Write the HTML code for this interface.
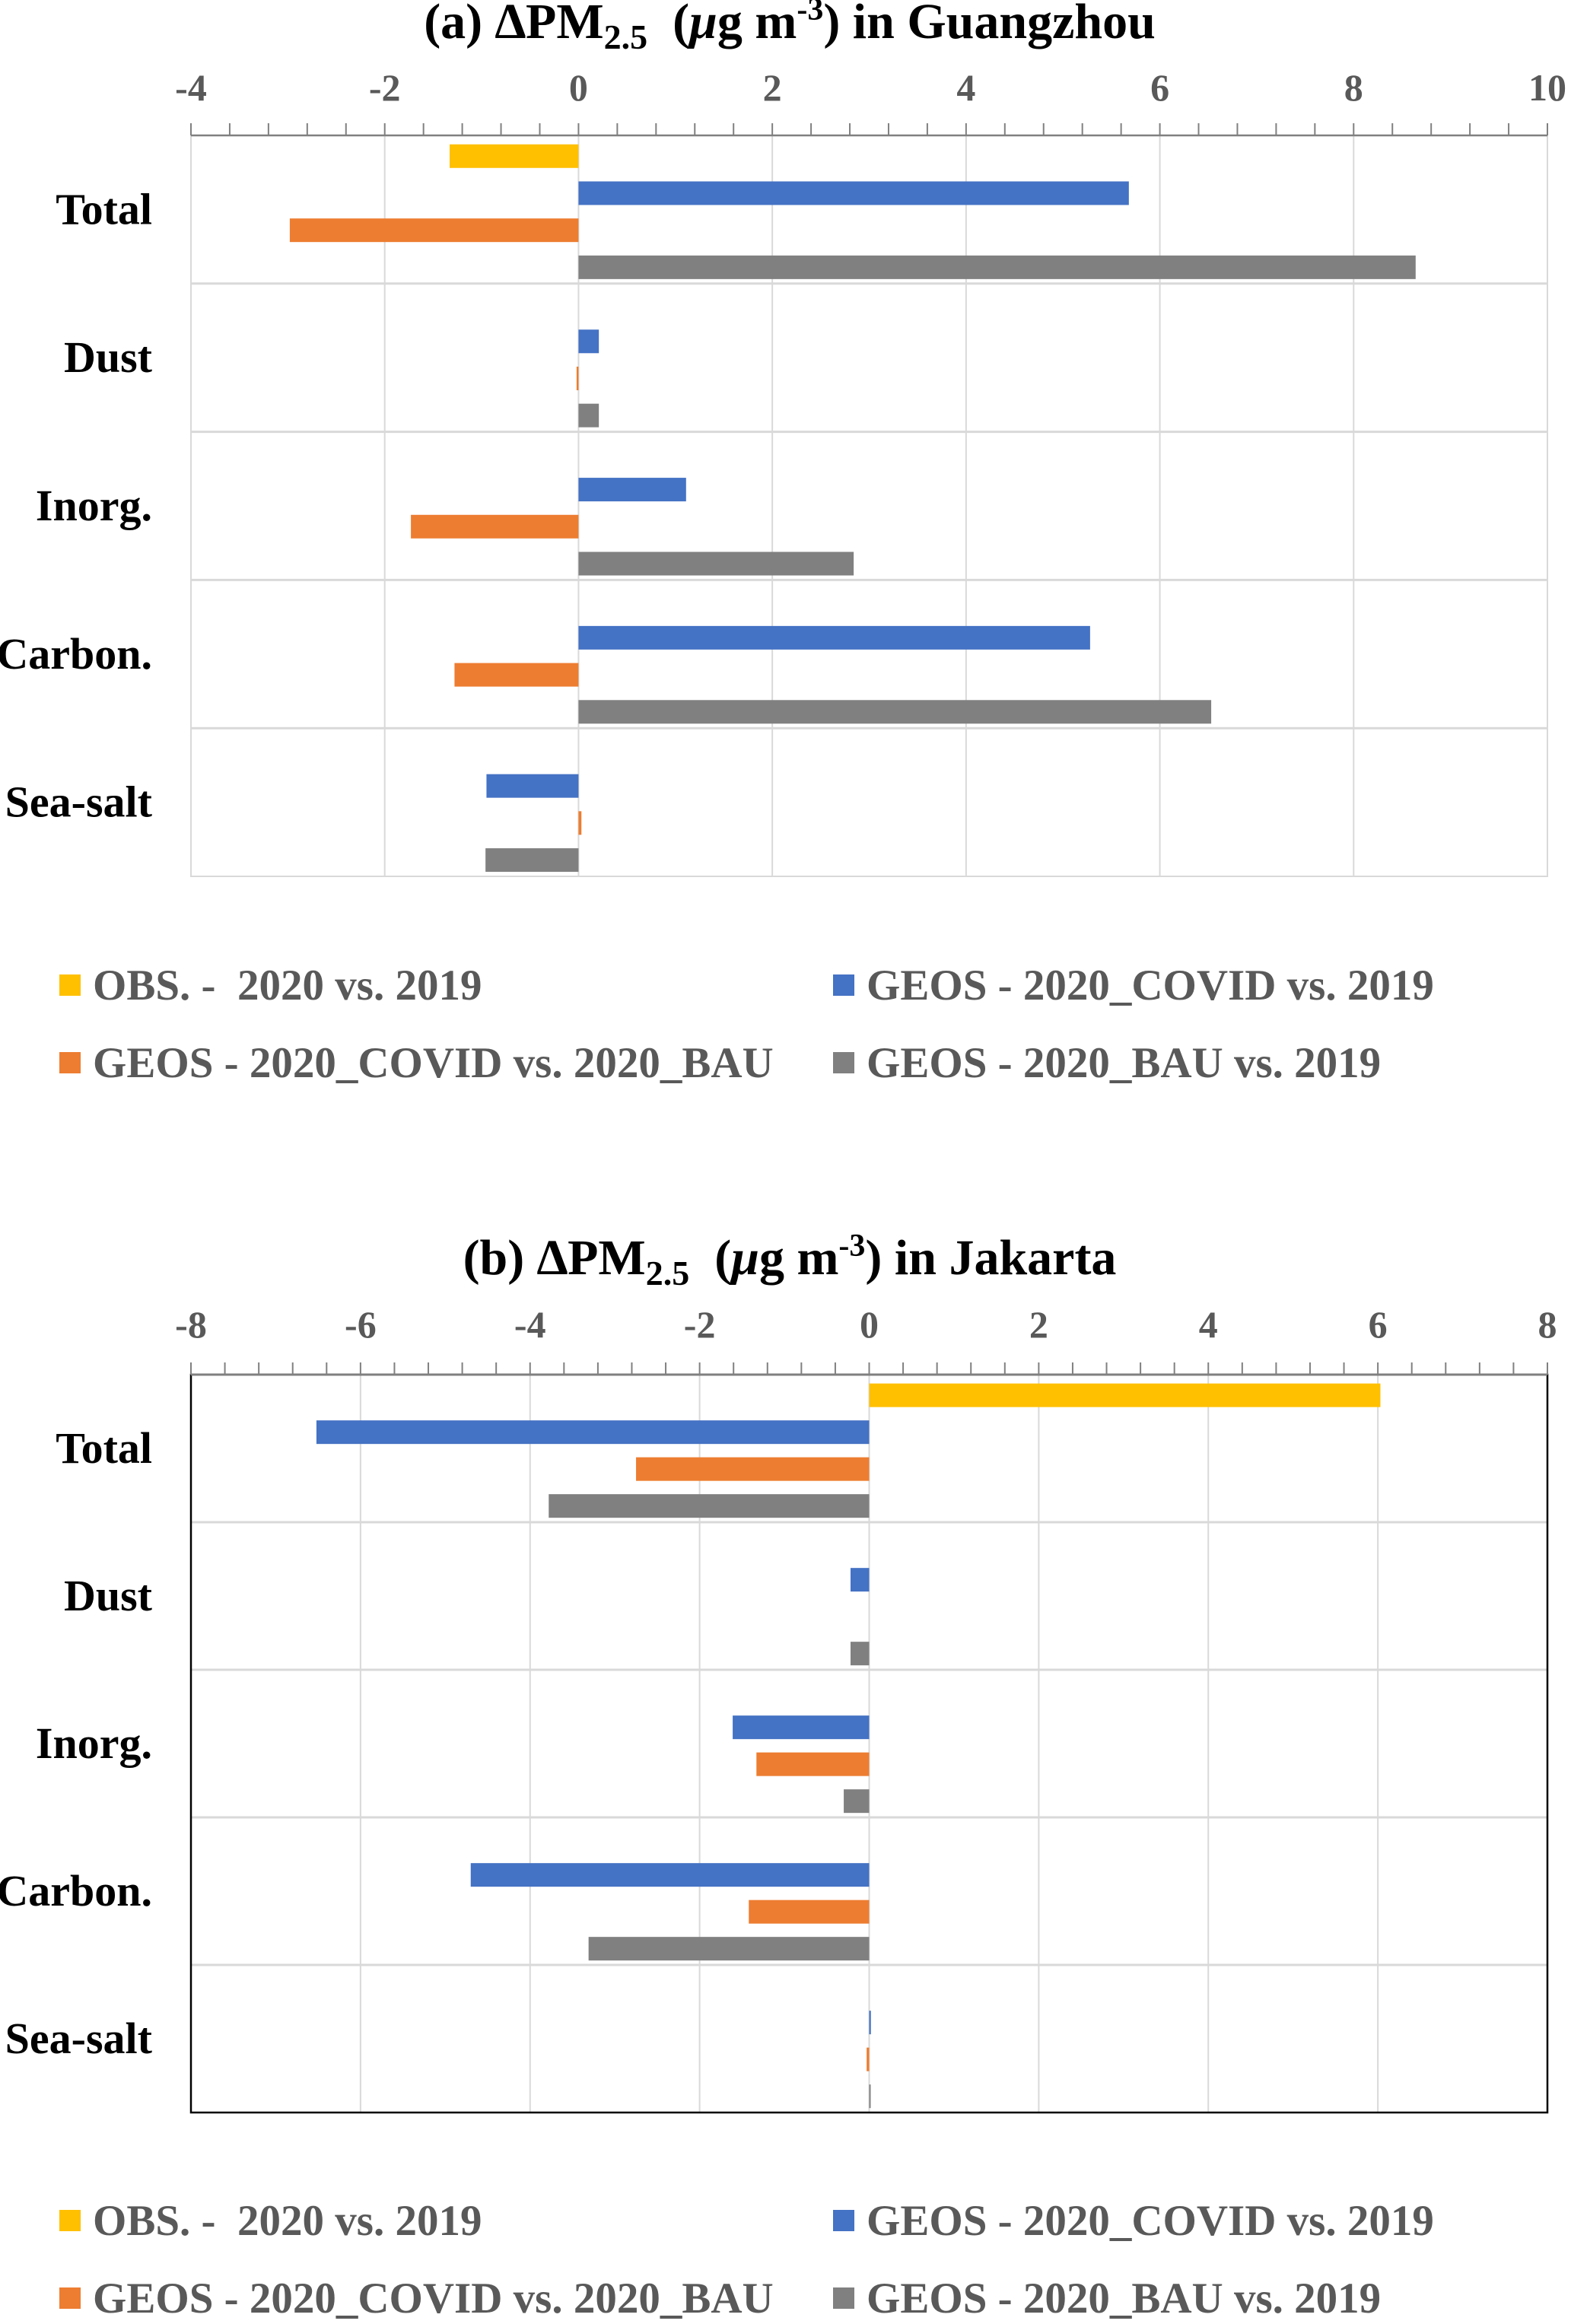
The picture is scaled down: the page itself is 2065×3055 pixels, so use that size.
<!DOCTYPE html>
<html><head><meta charset="utf-8"><style>
html,body{margin:0;padding:0;background:#fff}
svg{display:block;font-family:"Liberation Serif",serif;font-weight:bold}
text{white-space:pre}
</style></head><body>
<svg id="chart" width="2065" height="3055" viewBox="0 0 2065 3055" xmlns="http://www.w3.org/2000/svg" xml:space="preserve"></svg>
<script>
const categories = ["Total","Dust","Inorg.","Carbon.","Sea-salt"];
const seriesNames = ["OBS. -  2020 vs. 2019","GEOS - 2020_COVID vs. 2019","GEOS - 2020_COVID vs. 2020_BAU","GEOS - 2020_BAU vs. 2019"];
const gzObs   = [-1.33, 0, 0, 0, 0];
const gzCovid = [5.68, 0.21, 1.11, 5.28, -0.95];
const gzCvB   = [-2.98, -0.02, -1.73, -1.28, 0.03];
const gzBau   = [8.64, 0.21, 2.84, 6.53, -0.96];
const jkObs   = [6.03, 0, 0, 0, 0];
const jkCovid = [-6.52, -0.22, -1.61, -4.70, 0.02];
const jkCvB   = [-2.75, 0, -1.33, -1.42, -0.03];
const jkBau   = [-3.78, -0.22, -0.30, -3.31, 0.01];
const gzTicks = [-4,-2,0,2,4,6,8,10];
const jkTicks = [-8,-6,-4,-2,0,2,4,6,8];
const colors = ["#FFC000","#4472C4","#ED7D31","#808080"];

const svg = document.getElementById('chart');
const NS = "http://www.w3.org/2000/svg";
function mk(tag, attrs, parent){ const e=document.createElementNS(NS,tag); for(const k in attrs) e.setAttribute(k,attrs[k]); (parent||svg).appendChild(e); return e; }

function drawChart(cfg){
  const g = mk('g',{});
  
  
  const L=251, R=2034, T=cfg.top, B=cfg.bottom;
  const ticks=cfg.ticks, mn=ticks[0], mx=ticks[ticks.length-1];
  const x = v => L + (v-mn)/(mx-mn)*(R-L);
  const band = (B-T)/categories.length;
  const t = mk('text',{x:cfg.titleX,y:cfg.titleY,'text-anchor':'middle','font-size':66,fill:'#000'},g);
  
  
  t.innerHTML = cfg.titlePre + '<tspan font-size="46" dy="14">2.5</tspan><tspan dy="-14">  (</tspan><tspan font-style="italic">μ</tspan>g m<tspan font-size="42" dy="-24">-3</tspan><tspan dy="24">) in ' + cfg.city + '</tspan>';
  ticks.forEach(v=>{
    if(v!==mn){ const gl=mk('line',{x1:x(v),x2:x(v),y1:T,y2:B,stroke:'#d9d9d9','stroke-width':2},g);
        }
    const tl=mk('text',{x:x(v),y:cfg.tickY,'text-anchor':'middle','font-size':50,fill:'#595959'},g);
     
    tl.textContent=v;
  });
  for(let i=1;i<categories.length;i++){
    const hl=mk('line',{x1:L,x2:R,y1:T+band*i,y2:T+band*i,stroke:'#d9d9d9','stroke-width':3},g);
     
  }
  const bc = cfg.border ? '#000' : '#d9d9d9';
  const br=mk('rect',{x:L,y:T,width:R-L,height:B-T,fill:'none',stroke:bc,'stroke-width':cfg.border?2.5:2},g);
   
  const ax=mk('line',{x1:L,x2:R,y1:T,y2:T,stroke:'#808080','stroke-width':2.5},g);
   
  const step=(ticks[1]-ticks[0])/5;
  for(let v=mn; v<=mx+1e-9; v+=step){
    const tk=mk('line',{x1:x(v),x2:x(v),y1:T-16,y2:T,stroke:'#808080','stroke-width':2},g);
     
  }
  const offs=[0.14,0.39,0.64,0.89], bh=31;
  categories.forEach((c,i)=>{
    const cl=mk('text',{x:200,y:T+band*(i+0.5)+19,'text-anchor':'end','font-size':58,fill:'#000'},g);
     
    cl.textContent=c;
    cfg.series.forEach((s,j)=>{
      const v=s[i]; if(v===0) return;
      const cy=T+band*(i+offs[j]);
      const r=mk('rect',{x:Math.min(x(0),x(v)),y:cy-bh/2,width:Math.max(Math.abs(x(v)-x(0)),2),height:bh,fill:colors[j]},g);
      
      
    });
  });
  const lx=[78,1095], ly=[cfg.legendY, cfg.legendY+102];
  seriesNames.forEach((n,j)=>{
    const px=lx[j%2], py=ly[Math.floor(j/2)];
    const sq=mk('rect',{x:px,y:py-33,width:28,height:28,fill:colors[j]},g);
     
    const lt=mk('text',{x:px+44,y:py,'font-size':57,fill:'#595959'},g);
     
    lt.textContent=n;
  });
}
drawChart({name:'guangzhou-chart',top:178,bottom:1152,ticks:gzTicks,titleX:1038,titleY:50,tickY:132,legendY:1314,
  titlePre:'(a) ∆PM',city:'Guangzhou',border:false,series:[gzObs,gzCovid,gzCvB,gzBau]});
drawChart({name:'jakarta-chart',top:1807,bottom:2777,ticks:jkTicks,titleX:1038,titleY:1675,tickY:1758,legendY:2938,
  titlePre:'(b) ∆PM',city:'Jakarta',border:true,series:[jkObs,jkCovid,jkCvB,jkBau]});
</script>
</body></html>
